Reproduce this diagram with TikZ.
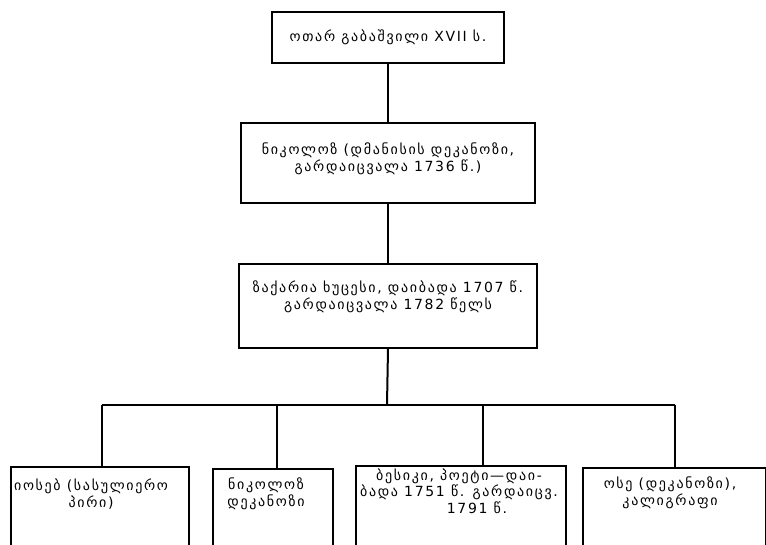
\documentclass[tikz,border=0pt]{standalone}
\usepackage{fontspec}
\setmainfont{DejaVu Sans}[LetterSpace=12]
\usetikzlibrary{calc}
\begin{document}
\begin{tikzpicture}[x=1pt,y=-1pt,
  box/.style={draw, line width=2pt, inner sep=0pt, anchor=north west},
  txt/.style={align=center, font=\fontsize{14}{16.5}\selectfont, inner sep=0pt},
  link/.style={line width=2pt}]
\useasboundingbox (0,0) rectangle (766,545);
\clip (0,0) rectangle (766,545);
% upper chain
\node[box, minimum width=232pt, minimum height=51pt] (n0) at (271,11) {};
\node[txt] (t0) at (n0.center) {ოთარ გაბაშვილი XVII ს.};
\node[box, minimum width=294pt, minimum height=80pt] (n1) at (240,122) {};
\node[txt] (t1) at ($(n1.center)+(0,-4)$) {ნიკოლოზ (დმანისის დეკანოზი,\\გარდაიცვალა 1736 წ.)};
\node[box, minimum width=298pt, minimum height=84pt] (n2) at (238,263) {};
\node[txt] (t2) at ($(n2.center)+(0,-9)$) {ზაქარია ხუცესი, დაიბადა 1707 წ.\\გარდაიცვალა 1782 წელს};
% lower row (boxes run past the bottom edge)
\node[box, minimum width=178pt, minimum height=120pt] (b1) at (10,466) {};
\node[txt] (s1) at (91,494) {იოსებ (სასულიერო\\პირი)};
\node[box, minimum width=120pt, minimum height=120pt] (b2) at (212,468) {};
\node[txt] (s2) at (266,494) {ნიკოლოზ\\დეკანოზი};
\node[box, minimum width=210pt, minimum height=120pt] (b3) at (355,465) {};
\node[txt] (s3) at (459,491) {ბესიკი, პოეტი—დაი-\\ბადა 1751 წ. გარდაიცვ.\\\hspace*{36pt}1791 წ.};
\node[box, minimum width=183pt, minimum height=120pt] (b4) at (582,467) {};
\node[txt] (s4) at (670,493) {ოსე (დეკანოზი),\\კალიგრაფი};
% connectors
\draw[link] (n0.south) -- (n1.north);
\draw[link] (n1.south) -- (n2.north);
\coordinate (bus) at (387,405);
\coordinate (j1) at (102,405);
\coordinate (j2) at (277,405);
\coordinate (j3) at (483,405);
\coordinate (j4) at (675,405);
\draw[link] (n2.south) -- (bus);
\draw[link] (j1) -- (j4);
\draw[link] (j1) -- (j1 |- b1.north);
\draw[link] (j2) -- (j2 |- b2.north);
\draw[link] (j3) -- (j3 |- b3.north);
\draw[link] (j4) -- (j4 |- b4.north);
\end{tikzpicture}
\end{document}
